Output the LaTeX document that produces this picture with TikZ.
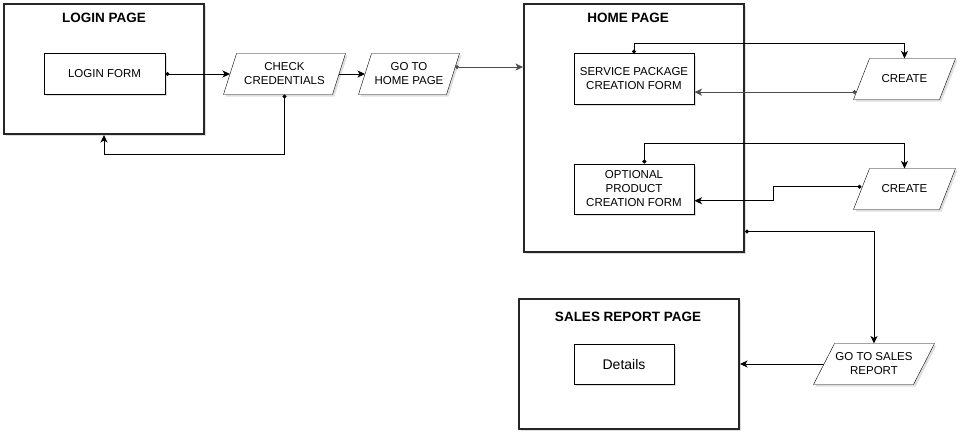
\documentclass[tikz,border=0pt]{standalone}
\usepackage{fontspec}
\setmainfont{Liberation Sans}
\usetikzlibrary{arrows.meta,shadows,backgrounds}

\begin{document}
\begin{tikzpicture}[x=1pt,y=-1pt,line width=1pt]
  \tikzstyle{every node}+=[inner sep=0pt, font=\fontsize{11.5}{14}\selectfont, align=center]
  \tikzstyle{shade}=[drop shadow={shadow xshift=2pt, shadow yshift=-2pt, opacity=0.25}]
  \tikzstyle{page}=[draw=black!85, line width=2pt, fill=white, shade]
  \tikzstyle{title}=[font=\fontsize{13.5}{16}\selectfont\bfseries]
  \tikzstyle{form}=[draw, fill=white, shade]
  \tikzstyle{io}=[minimum height=40]
  \tikzstyle{link}=[-{Stealth[length=7.5pt,width=7pt,inset=2pt]}]
  \tikzstyle{dotlink}=[{Circle[length=4pt]}-{Stealth[length=7.5pt,width=7pt,inset=2pt]}]
  \useasboundingbox (0,0) rectangle (960,436);
  % login
  \node [page, minimum width=200, minimum height=130] (login) at (104,69) {};
  \node [title] (logintitle) at (104,18) {LOGIN PAGE};
  \node [form, minimum width=121, minimum height=40] (loginform) at (104.5,74) {LOGIN FORM};
  \node [io, minimum width=108] (check) at (284.5,74) {CHECK\\CREDENTIALS};
  \node [io, minimum width=87] (gohome) at (409,74) {GO TO\\HOME PAGE};
  % home
  \node [page, minimum width=220, minimum height=248] (home) at (634,128) {};
  \node [title] (hometitle) at (628,18) {HOME PAGE};
  \node [form, minimum width=120, minimum height=50] (service) at (634,79) {SERVICE PACKAGE\\CREATION FORM};
  \node [form, minimum width=120, minimum height=50] (optional) at (634,189) {OPTIONAL\\PRODUCT\\CREATION FORM};
  \node [io, minimum width=85] (create1) at (904.5,79) {CREATE};
  \node [io, minimum width=85] (create2) at (904.5,189) {CREATE};
  % sales
  \node [page, minimum width=220, minimum height=130] (sales) at (629,364) {};
  \node [title] (salestitle) at (628,317) {SALES REPORT PAGE};
  \node [form, minimum width=100, minimum height=40, font=\fontsize{14}{16}\selectfont] (details) at (624,364) {Details};
  \node [io, minimum width=99] (gosales) at (874,364) {GO TO SALES\\REPORT};
  % parallelograms behind the io nodes
  \begin{scope}[on background layer]
    \foreach \n/\s in {check/6.5, gohome/6.5, create1/8, create2/8, gosales/10.5}
      \draw [fill=white, shade] ([xshift=-\s]\n.south west) -- ([xshift=\s]\n.north west)
        -- ([xshift=\s]\n.north east) -- ([xshift=-\s]\n.south east) -- cycle;
  \end{scope}

  \draw [dotlink] (loginform.east) -- (check.west);
  \draw [link] (check.east) -- (gohome.west);
  \draw [dotlink, black!70] ([xshift=2]gohome.9) -- (gohome.9 -| home.west);
  \draw [dotlink] (check.south) -- ++(0,60) -| (login.south);
  \draw [dotlink] (service.north) -- ++(0,-10) -| (create1.north);
  \draw [dotlink, black!70] ([xshift=-5]create1.197) -- (service.east |- create1.197);
  \draw [dotlink] (optional.68) -- ++(0,-20) -| (create2.north);
  \draw [dotlink] (create2.177) -- ++(-88,0) |- (optional.-11);
  \draw [dotlink] (home.-43.4) -| (gosales.north);
  \draw [link] (gosales.west) -- (sales.east);
\end{tikzpicture}
\end{document}
